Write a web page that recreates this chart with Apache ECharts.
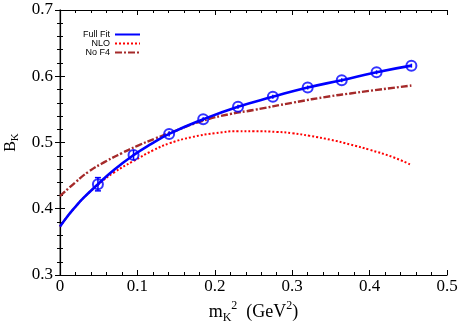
<!DOCTYPE html>
<html>
<head>
<meta charset="utf-8">
<script src="https://cdn.jsdelivr.net/npm/echarts@6/dist/echarts.min.js"></script>
<style>
  html, body { margin: 0; padding: 0; background: #fff; }
  #chart { width: 460px; height: 322px; }
</style>
</head>
<body>
<div id="chart"></div>
<script>
// lattice points (Full Fit)
const ptX = [0.049, 0.095, 0.141, 0.185, 0.230, 0.275, 0.320, 0.364, 0.409, 0.454];
const ptY = [0.437, 0.481, 0.513, 0.535, 0.554, 0.569, 0.583, 0.594, 0.606, 0.616];
const ptErr = [0.010, 0.008, 0.004, 0.003, 0.003, 0.003, 0.003, 0.003, 0.003, 0.003];

// fit curves
const fullX = [0, 0.01, 0.02, 0.03, 0.049, 0.07, 0.095, 0.118, 0.141, 0.185, 0.230, 0.275, 0.320, 0.364, 0.409, 0.454];
const fullY = [0.373, 0.389, 0.403, 0.416, 0.437, 0.459, 0.481, 0.498, 0.513, 0.535, 0.554, 0.569, 0.583, 0.594, 0.606, 0.616];

const nloX = [0, 0.01, 0.02, 0.03, 0.049, 0.07, 0.095, 0.12, 0.142, 0.17, 0.2, 0.23, 0.25, 0.28, 0.3, 0.323, 0.35, 0.375, 0.4, 0.43, 0.454];
const nloY = [0.373, 0.389, 0.403, 0.416, 0.436, 0.455, 0.472, 0.488, 0.499, 0.508, 0.514, 0.517, 0.517, 0.516, 0.514, 0.510, 0.504, 0.497, 0.489, 0.478, 0.466];

const nof4X = [0, 0.02, 0.037, 0.06, 0.08, 0.1, 0.123, 0.15, 0.185, 0.22, 0.25, 0.3, 0.35, 0.375, 0.4, 0.454];
const nof4Y = [0.419, 0.440, 0.456, 0.472, 0.484, 0.495, 0.506, 0.518, 0.533, 0.543, 0.549, 0.560, 0.570, 0.574, 0.578, 0.586];

const legendNames = ['Full Fit', 'NLO', 'No F4'];

function zip(xs, ys) {
    return xs.map((x, i) => [x, ys[i]]);
}

const chart = echarts.init(document.getElementById('chart'));
const serif = 'Liberation Serif';
const symbolSize = 10;

const frameAxis = {
    min: 0, max: 0.5, interval: 0.1,
    axisLine: { show: true, lineStyle: { color: '#000', width: 1.2 } },
    axisTick: { show: true, inside: true, length: 5, lineStyle: { color: '#000' } },
    minorTick: { show: true, splitNumber: 5, length: 3, lineStyle: { color: '#000' } },
    splitLine: { show: false },
    axisLabel: { show: false }
};

const option = {
    animation: false,
    textStyle: { fontFamily: serif, color: '#000' },
    grid: { left: 60, right: 13, top: 10, bottom: 47, containLabel: false, outerBoundsMode: 'none' },
    legend: {
        data: legendNames,
        orient: 'vertical',
        align: 'right',
        left: 78,
        top: 25,
        itemWidth: 25,
        itemHeight: 8,
        itemGap: 0,
        itemStyle: { opacity: 0 },
        textStyle: { fontFamily: 'Liberation Sans', fontSize: 9, color: '#000', lineHeight: 8 }
    },
    xAxis: [
        Object.assign({}, frameAxis, {
            type: 'value',
            position: 'bottom',
            axisLabel: { show: true, fontFamily: serif, fontSize: 17, color: '#000', margin: 3 },
            name: '{m|m}{sub|K}{sup|2}{t|  (GeV}{sup|2}{t|)}',
            nameLocation: 'middle',
            nameGap: 20,
            nameTextStyle: {
                fontFamily: serif,
                rich: {
                    m: { fontFamily: serif, fontSize: 18, color: '#000', lineHeight: 24 },
                    t: { fontFamily: serif, fontSize: 18, color: '#000', lineHeight: 24 },
                    sub: { fontFamily: serif, fontSize: 12, color: '#000', verticalAlign: 'bottom', lineHeight: 12 },
                    sup: { fontFamily: serif, fontSize: 12, color: '#000', verticalAlign: 'top', lineHeight: 12 }
                }
            }
        }),
        Object.assign({}, frameAxis, { type: 'value', position: 'top' })
    ],
    yAxis: [
        Object.assign({}, frameAxis, {
            type: 'value',
            min: 0.3, max: 0.7, interval: 0.1,
            position: 'left',
            axisLine: { show: true, lineStyle: { color: '#888', width: 1.6 } },
            axisLabel: {
                show: true, fontFamily: serif, fontSize: 17, color: '#000', margin: 7,
                formatter: v => v.toFixed(1)
            },
            name: '{b|B}{sub|K}',
            nameLocation: 'middle',
            nameRotate: 90,
            nameGap: 31,
            nameTextStyle: {
                fontFamily: serif,
                rich: {
                    b: { fontFamily: serif, fontSize: 16, color: '#000', lineHeight: 20 },
                    sub: { fontFamily: serif, fontSize: 11, color: '#000', verticalAlign: 'bottom', lineHeight: 11 }
                }
            }
        }),
        Object.assign({}, frameAxis, {
            type: 'value',
            min: 0.3, max: 0.7, interval: 0.1,
            position: 'right'
        })
    ],
    series: [
        {
            name: 'Full Fit',
            type: 'line',
            data: zip(fullX, fullY),
            smooth: true,
            symbol: 'none',
            lineStyle: { color: '#0000ff', width: 2.6 },
            itemStyle: { color: '#0000ff' },
            z: 4
        },
        {
            name: 'NLO',
            type: 'line',
            data: zip(nloX, nloY),
            smooth: true,
            symbol: 'none',
            lineStyle: { color: '#ff0000', width: 2, type: [2, 2] },
            itemStyle: { color: '#ff0000' },
            z: 3
        },
        {
            name: 'No F4',
            type: 'line',
            data: zip(nof4X, nof4Y),
            smooth: true,
            symbol: 'none',
            lineStyle: { color: '#a52a2a', width: 2.4, type: [7, 2, 2, 2] },
            itemStyle: { color: '#a52a2a' },
            z: 3
        },
        {
            name: 'points',
            type: 'scatter',
            data: zip(ptX, ptY),
            symbol: 'circle',
            symbolSize: symbolSize,
            itemStyle: { color: 'rgba(0,0,0,0)', borderColor: '#0000ff', borderWidth: 2 },
            z: 5
        },
        {
            name: 'errors',
            type: 'custom',
            data: ptX.map((x, i) => [x, ptY[i] - ptErr[i], ptY[i] + ptErr[i]]),
            renderItem: function (params, api) {
                const lo = api.coord([api.value(0), api.value(1)]);
                const hi = api.coord([api.value(0), api.value(2)]);
                const cap = 3;
                const style = { stroke: '#0000ff', lineWidth: 1.5 };
                const children = [
                    { type: 'line', shape: { x1: lo[0], y1: lo[1], x2: hi[0], y2: hi[1] }, style }
                ];
                // caps only where the bar reaches outside the circle
                if ((lo[1] - hi[1]) / 2 > symbolSize / 2 + 1) {
                    children.push(
                        { type: 'line', shape: { x1: lo[0] - cap, y1: lo[1], x2: lo[0] + cap, y2: lo[1] }, style },
                        { type: 'line', shape: { x1: hi[0] - cap, y1: hi[1], x2: hi[0] + cap, y2: hi[1] }, style }
                    );
                }
                return { type: 'group', children };
            },
            z: 5
        }
    ]
};

chart.setOption(option);
window.addEventListener('resize', function () {
    chart.resize();
});
</script>
</body>
</html>
